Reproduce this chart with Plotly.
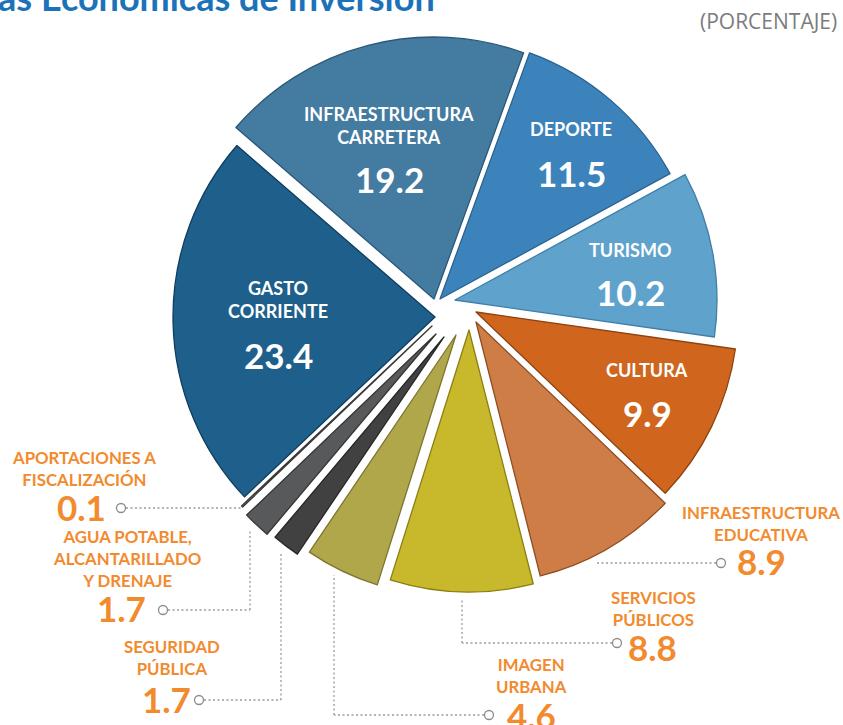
import plotly.graph_objects as go

# ---------------- data ----------------
CATEGORIES = ["DEPORTE", "TURISMO", "CULTURA", "INFRAESTRUCTURA EDUCATIVA",
              "SERVICIOS PÚBLICOS", "IMAGEN URBANA", "SEGURIDAD PÚBLICA",
              "AGUA POTABLE, ALCANTARILLADO Y DRENAJE",
              "APORTACIONES A FISCALIZACIÓN", "GASTO CORRIENTE",
              "INFRAESTRUCTURA CARRETERA"]
VALUES = [11.5, 10.2, 9.9, 8.9, 8.8, 4.6, 1.7, 1.7, 0.1, 23.4, 19.2]
VALUE_LABELS = ["11.5", "10.2", "9.9", "8.9", "8.8", "4.6", "1.7", "1.7", "0.1", "23.4", "19.2"]
NAME_LABELS = ["DEPORTE", "TURISMO", "CULTURA", "INFRAESTRUCTURA<br>EDUCATIVA",
               "SERVICIOS<br>PÚBLICOS", "IMAGEN<br>URBANA", "SEGURIDAD<br>PÚBLICA",
               "AGUA POTABLE,<br>ALCANTARILLADO<br>Y DRENAJE",
               "APORTACIONES A<br>FISCALIZACIÓN", "GASTO<br>CORRIENTE",
               "INFRAESTRUCTURA<br>CARRETERA"]
TITLE = "Áreas Económicas de Inversión"
UNITS = "(PORCENTAJE)"

# ---------------- styles / layout ----------------
W, H = 843, 725
R = 262
COLORS = ["#3d83bb", "#5fa3cd", "#d0661e", "#cf7d47", "#c8b82b", "#b0a74a",
          "#414141", "#58595b", "#6a6a6a", "#1e5f8c", "#437ba1"]
EDGES = ["#2a6290", "#3f7fa8", "#8d4210", "#8f4d22", "#8b7f12", "#7d7630",
         "#262626", "#353535", "#3a3a3a", "#0f3d5e", "#2a5878"]
# apex (pixel) of each exploded slice
APEX = [(440, 299), (455, 300), (476, 312), (476, 322), (469, 330), (456, 335),
        (444, 337), (436, 334), (432, 326), (435, 317), (434, 299)]
ORANGE = "#f28a2e"
FONT = "Lato"


def px(x):
    return x / W


def py(y):
    return 1 - y / H


fig = go.Figure()
n = len(VALUES)
for i in range(n):
    ax, ay = APEX[i]
    cols = ["rgba(0,0,0,0)"] * n
    edges = ["rgba(0,0,0,0)"] * n
    cols[i] = COLORS[i]
    edges[i] = EDGES[i]
    fig.add_trace(go.Pie(
        values=VALUES, labels=CATEGORIES, sort=False, direction="clockwise",
        rotation=20, textinfo="none", hoverinfo="skip", showlegend=False,
        marker=dict(colors=cols, line=dict(color=edges, width=1.3)),
        domain=dict(x=[px(ax - R), px(ax + R)], y=[py(ay + R), py(ay - R)]),
    ))

annotations = []
shapes = []

# inside (white) labels: index -> (x, name_y, value_y)
INSIDE = {10: (389, 125, 179), 0: (571, 129, 173), 1: (630, 250, 292),
          2: (647, 370, 413), 9: (278, 300, 355)}
for i, (x, ny, vy) in INSIDE.items():
    annotations.append(dict(x=px(x), y=py(ny), xref="paper", yref="paper",
                            text=f"<b>{NAME_LABELS[i]}</b>", showarrow=False,
                            xanchor="center", yanchor="middle",
                            font=dict(family=FONT, size=18, color="white")))
    annotations.append(dict(x=px(x), y=py(vy), xref="paper", yref="paper",
                            text=f"<b>{VALUE_LABELS[i]}</b>", showarrow=False,
                            xanchor="center", yanchor="middle",
                            font=dict(family=FONT, size=35, color="white")))

# outside (orange) labels: index -> (name_x, name_center_y, value_x, value_y, value_anchor)
OUTSIDE = {8: (84, 468, 108, 507, "right"),
           7: (127, 558, 148, 608, "right"),
           6: (172, 657, 193, 699, "right"),
           5: (531, 675, 531, 715, "center"),
           4: (653, 608, 652, 647, "center"),
           3: (761, 523, 761, 561, "center")}
for i, (nx, ny, vx, vy, anc) in OUTSIDE.items():
    annotations.append(dict(x=px(nx), y=py(ny), xref="paper", yref="paper",
                            text=f"<b>{NAME_LABELS[i]}</b>", showarrow=False,
                            xanchor="center", yanchor="middle",
                            font=dict(family=FONT, size=16.8, color=ORANGE)))
    annotations.append(dict(x=px(vx), y=py(vy), xref="paper", yref="paper",
                            text=f"<b>{VALUE_LABELS[i]}</b>", showarrow=False,
                            xanchor=anc, yanchor="middle",
                            font=dict(family=FONT, size=35, color=ORANGE)))

# leader lines (pixel polylines) and marker circles
LEADERS = {8: [(126, 508), (241, 508)],
           7: [(168, 610), (250, 610), (250, 530)],
           6: [(204, 700), (281, 700), (281, 552)],
           5: [(484, 715), (334, 715), (334, 575)],
           4: [(612, 643), (462, 643), (462, 600)],
           3: [(716, 563), (597, 563)]}
CIRCLES = {8: (121, 508), 7: (163, 610), 6: (199, 700), 5: (489, 715),
           4: (617, 643), 3: (721, 563)}
for i, pts in LEADERS.items():
    for (x0, y0), (x1, y1) in zip(pts[:-1], pts[1:]):
        shapes.append(dict(type="line", xref="paper", yref="paper",
                           x0=px(x0), y0=py(y0), x1=px(x1), y1=py(y1),
                           line=dict(color="#9a9a9a", width=1.3, dash="2px,2.5px")))
    cx, cy = CIRCLES[i]
    r = 4.5
    shapes.append(dict(type="circle", xref="paper", yref="paper",
                       x0=px(cx - r), x1=px(cx + r), y0=py(cy + r), y1=py(cy - r),
                       line=dict(color="#8c8c8c", width=1.3), fillcolor="white"))

# title (partially cut at top-left) and units
annotations.append(dict(x=px(437), y=py(-3), xref="paper", yref="paper",
                        text=f"<b>{TITLE}</b>",
                        showarrow=False, xanchor="right", yanchor="middle",
                        font=dict(family=FONT, size=36, color="#1c72b8")))
annotations.append(dict(x=px(839), y=py(21), xref="paper", yref="paper", text=UNITS,
                        showarrow=False, xanchor="right", yanchor="middle",
                        font=dict(family="Open Sans", size=21, color="#7c7c7c")))

fig.update_layout(width=W, height=H, margin=dict(l=0, r=0, t=0, b=0),
                  paper_bgcolor="white", plot_bgcolor="white",
                  annotations=annotations, shapes=shapes)

fig.write_html("out.html", config={"displayModeBar": False},
               post_script="document.body.style.margin='0';")
